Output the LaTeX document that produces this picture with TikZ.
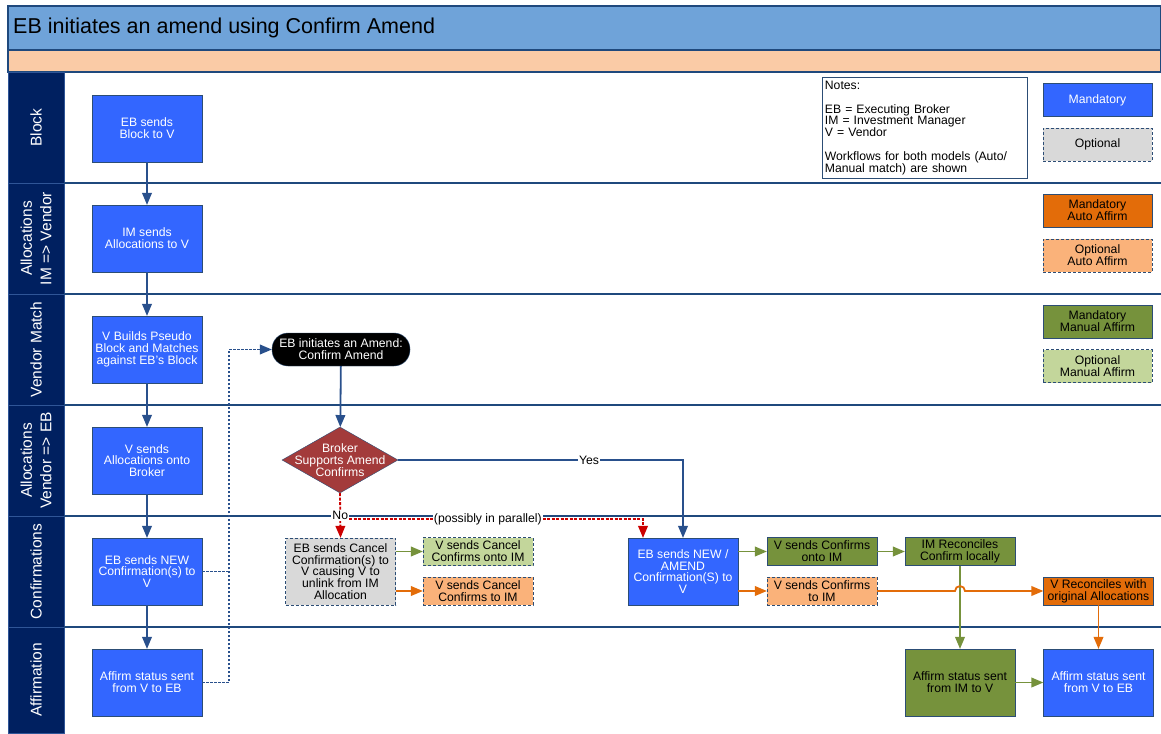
\documentclass[tikz,border=0pt]{standalone}
\usepackage{fontspec}
\setmainfont{Liberation Sans}
\usepackage{tikz}
\definecolor{titleblue}{RGB}{111,163,217}
\definecolor{peach}{RGB}{250,203,166}
\definecolor{lanenavy}{RGB}{0,32,96}
\definecolor{laneedge}{RGB}{47,85,151}
\definecolor{laneline}{RGB}{31,73,125}
\definecolor{boxblue}{RGB}{51,102,255}
\definecolor{boxedge}{RGB}{44,77,117}
\definecolor{flowblue}{RGB}{41,80,140}
\definecolor{mandgreen}{RGB}{118,146,60}
\definecolor{optgreen}{RGB}{195,214,155}
\definecolor{mandorange}{RGB}{227,108,9}
\definecolor{optorange}{RGB}{250,178,122}
\definecolor{optgrey}{RGB}{217,217,217}
\definecolor{diamondred}{RGB}{163,59,59}
\definecolor{noalert}{RGB}{204,0,0}
\usetikzlibrary{positioning}
\usetikzlibrary{calc}
\usetikzlibrary{arrows}
\usetikzlibrary{shapes}
\newcommand{\flowfont}{\fontsize{12.2}{11.8}\selectfont}
\newcommand{\bannerfont}{\fontsize{21.5}{24}\selectfont}
\newcommand{\lanefont}{\fontsize{15.5}{19.5}\selectfont}
\tikzset{mand/.style={rectangle,draw=boxedge,fill=boxblue,text=white,minimum width=110pt,minimum height=67pt,align=center,inner sep=1pt,font=\flowfont}}
\tikzset{opt/.style={mand,fill=optgrey,text=black,densely dashed}}
\tikzset{mandauto/.style={mand,fill=mandorange,text=black}}
\tikzset{optauto/.style={opt,fill=optorange}}
\tikzset{mandman/.style={mand,fill=mandgreen,text=black}}
\tikzset{optman/.style={opt,fill=optgreen}}
\tikzset{small/.style={minimum height=28pt}}
\tikzset{legend/.style={minimum width=109pt,minimum height=33pt}}
\tikzset{start/.style={rectangle,rounded corners=16pt,draw=boxedge,fill=black,text=white,minimum width=138pt,minimum height=33pt,align=center,inner sep=1pt,font=\flowfont}}
\tikzset{decision/.style={diamond,draw=boxedge,fill=diamondred,text=white,minimum width=116pt,minimum height=66pt,inner xsep=-30pt,inner ysep=-12pt,align=center,font=\flowfont}}
\tikzset{line/.style={flowblue,>=triangle 45,line width=1.8pt}}
\tikzset{greenline/.style={line,mandgreen}}
\tikzset{orangeline/.style={line,mandorange}}
\tikzset{noline/.style={line,noalert,dash pattern=on 3pt off 1.5pt}}
\tikzset{loopback/.style={line,dash pattern=on 2.5pt off 1.5pt}}
\tikzset{tag/.style={fill=white,text=black,inner sep=1pt,font=\flowfont}}
\tikzset{lanehead/.style={draw=laneedge,fill=lanenavy,line width=0.8pt}}
\tikzset{lanelabel/.style={text=white,rotate=90,align=center,font=\lanefont}}
\tikzset{lanesep/.style={draw=laneline,line width=1.5pt}}

\begin{document}
\begin{tikzpicture}[x=1pt,y=-1pt]
  \useasboundingbox (0,0) rectangle (1161,733);
  % Title
  \draw[lanesep,fill=titleblue] (8,6) rectangle (1161,50);
  \node[anchor=west,inner sep=0pt,font=\bannerfont] (title) at (13,28) {EB initiates an amend using Confirm Amend};
  \draw[lanesep,fill=peach] (8,50) rectangle (1161,72);

  % Lanes
  \foreach \ya/\yb/\lname [count=\i] in {72/183/Block,183/294/{Allocations\\IM => Vendor},294/405/Vendor Match,405/516/{Allocations\\Vendor => EB},516/627/Confirmations,627/733/Affirmation}
  {
    \draw[lanehead] (8,\ya) rectangle (64,\yb);
    \node[lanelabel] (lane\i) at (36,{(\ya+\yb)/2}) {\lname};
  }
  \foreach \y in {183,294,405,516}
    \draw[lanesep] (64,\y) -- (1161,\y);
  \draw[lanesep,line width=2.2pt] (64,627) -- (1161,627);

  % Main column
  \node[mand] (block) at (147,128.5) {EB sends\\Block to V};
  \node[mand] (alloc) at (147,238.5) {IM sends\\Allocations to V};
  \node[mand] (match) at (147,349.5) {V Builds Pseudo\\Block and Matches\\against EB’s Block};
  \node[mand] (allocv) at (147,460.5) {V sends\\Allocations onto\\Broker};
  \node[mand] (newconf) at (147,571.5) {EB sends NEW\\Confirmation(s) to\\V};
  \node[mand] (affirm) at (147,682.5) {Affirm status sent\\from V to EB};
  \foreach \a/\b in {block/alloc,alloc/match,match/allocv,allocv/newconf,newconf/affirm}
    \draw[line,->] (\a) -- (\b);

  % Amend
  \node[start] (amend) at (341,349.5) {EB initiates an Amend:\\Confirm Amend};
  \node[decision] (check) at (340,460) {Broker\\Supports Amend\\Confirms};
  \node[opt] (cancel) at (340.5,571.5) {EB sends Cancel\\Confirmation(s) to\\V causing V to\\unlink from IM\\Allocation};
  \node[optman,small] (canconf) at (478,551.5) {V sends Cancel\\Confirms onto IM};
  \node[optauto,small] (canto) at (478,591) {V sends Cancel\\Confirms to IM};
  \node[mand] (amendconf) at (683,571.5) {EB sends NEW /\\AMEND\\Confirmation(S) to\\V};
  \node[mandman,small] (vconf) at (822,551.5) {V sends Confirms\\onto IM};
  \node[mandman,small] (imrec) at (960,551.5) {IM Reconciles\\Confirm locally};
  \node[optauto,small] (vconfto) at (822,591) {V sends Confirms\\to IM};
  \node[mandauto,small] (vrec) at (1098.5,591) {V Reconciles with\\original Allocations};
  \node[mandman] (affim) at (960,682.5) {Affirm status sent\\from IM to V};
  \node[mand] (affv) at (1098.5,682.5) {Affirm status sent\\from V to EB};

  % Loop back
  \coordinate (bend) at (229,682.5);
  \draw[loopback] (newconf.east) -- (newconf.east -| bend);
  \draw[loopback,->] (affirm.east) -- (bend) |- (amend.west);

  \draw[line,->] (amend) -- (check);
  \draw[line,->] (check.east) -| (amendconf.north) node[tag,pos=0.335] {Yes};
  \coordinate (split) at (340,519);
  \draw[noline,->] (split) -| ([xshift=-40pt]amendconf.north) node[tag,pos=0.244] {(possibly in parallel)};
  \draw[noline,->] (check.south) -- (cancel.north) node[tag,pos=0.5] {No};
  \draw[greenline,->] (cancel.east |- canconf.west) -- (canconf.west);
  \draw[orangeline,->] (cancel.east |- canto.west) -- (canto.west);

  \draw[greenline,->] (amendconf.east |- vconf.west) -- (vconf.west);
  \draw[orangeline,->] (amendconf.east |- vconfto.west) -- (vconfto.west);
  \draw[greenline,->] (vconf) -- (imrec);
  \draw[greenline,->] (imrec) -- (affim);
  \draw[orangeline,->] (vconfto.east) -- (955,591) arc[start angle=180,end angle=360,radius=5] -- (vrec.west);
  \draw[orangeline,->] (vrec) -- (affv);
  \draw[greenline,->] (affim) -- (affv);

  % Notes and legend
  \node[draw=boxedge,line width=0.8pt,anchor=north west,text width=200pt,minimum height=101pt,align=left,inner sep=2.5pt,font=\flowfont] (notes) at (822,77) {Notes:\\[11.7pt]EB = Executing Broker\\IM = Investment Manager\\V = Vendor\\[11.7pt]Workflows for both models (Auto/\\Manual match) are shown};
  \node[mand,legend] (keymand) at (1097.5,100) {Mandatory};
  \node[opt,legend] (keyopt) at (1097.5,144.5) {Optional};
  \node[mandauto,legend] (keymandauto) at (1097.5,210.5) {Mandatory\\Auto Affirm};
  \node[optauto,legend] (keyoptauto) at (1097.5,255.5) {Optional\\Auto Affirm};
  \node[mandman,legend] (keymandman) at (1097.5,321.5) {Mandatory\\Manual Affirm};
  \node[optman,legend] (keyoptman) at (1097.5,366) {Optional\\Manual Affirm};
\end{tikzpicture}
\end{document}
